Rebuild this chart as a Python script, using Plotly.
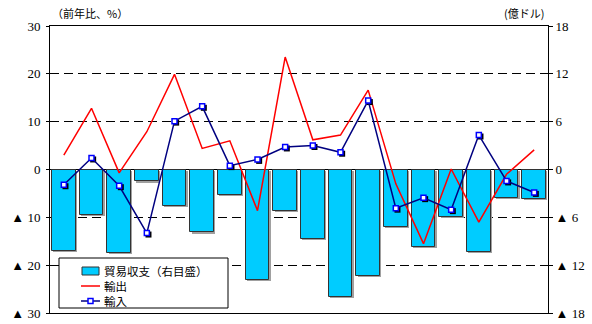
import plotly.graph_objects as go

# 18 periods, plotted on a numeric x so offsets can be applied to the shadows
periods = list(range(18))

# Trade balance (right axis, 100 million USD)
balance = [-10.2, -5.7, -10.5, -1.5, -4.6, -7.9, -3.2, -13.8, -5.2, -8.7,
           -16.0, -13.3, -7.2, -9.7, -5.9, -10.3, -3.6, -3.7]
# Exports, year-on-year % (left axis)
exports = [3.0, 12.8, -0.7, 7.9, 19.9, 4.4, 6.0, -8.6, 23.5, 6.2,
           7.2, 16.6, -3.0, -15.5, 0.1, -11.0, -1.0, 4.1]
# Imports, year-on-year % (left axis)
imports = [-3.2, 2.4, -3.4, -13.3, 10.1, 13.2, 0.8, 2.1, 4.7, 5.0,
           3.6, 14.4, -8.1, -5.9, -8.4, 7.2, -2.4, -4.8]

left_ticks = [30, 20, 10, 0, -10, -20, -30]
left_text = ["30", "20", "10", "0", "▲ 10", "▲ 20", "▲ 30"]
right_ticks = [18, 12, 6, 0, -6, -12, -18]
right_text = ["18", "12", "6", "0", "▲ 6", "▲ 12", "▲ 18"]

legend_labels = ["貿易収支（右目盛）", "輸出", "輸入"]

serif = "Liberation Serif"
cjk = "Noto Sans CJK JP"
bar_fill = "#00CCFF"
bar_edge = "#333333"
export_color = "#FF0000"
import_color = "#000080"
marker_edge = "#0000FF"

W, H = 592, 324
M = dict(l=50, r=44, t=26, b=11)
plot_w = W - M["l"] - M["r"]
plot_h = H - M["t"] - M["b"]


def px(x):
    return (x - M["l"]) / plot_w


def py(y):
    return (H - M["b"] - y) / plot_h


fig = go.Figure()

# faint grey drop shadow behind the balance bars
fig.add_trace(go.Bar(
    x=[p + 0.05 for p in periods], y=balance, base=[-0.15] * len(balance),
    yaxis="y", width=0.85, showlegend=False, hoverinfo="skip",
    marker=dict(color="#A0A0A0", line=dict(width=0)),
))

fig.add_trace(go.Bar(
    x=periods, y=balance, name=legend_labels[0], yaxis="y",
    width=0.85,
    marker=dict(color=bar_fill, line=dict(color=bar_edge, width=1)),
))

fig.add_trace(go.Scatter(
    x=periods, y=exports, name=legend_labels[1], yaxis="y2", mode="lines",
    line=dict(color=export_color, width=1.5),
))

# small dark drop shadow under the import markers
fig.add_trace(go.Scatter(
    x=[p + 0.06 for p in periods], y=[v - 0.3 for v in imports],
    yaxis="y2", mode="markers", showlegend=False, hoverinfo="skip",
    marker=dict(symbol="square", size=6, color="#000000",
                line=dict(width=0)),
))

fig.add_trace(go.Scatter(
    x=periods, y=imports, name=legend_labels[2], yaxis="y2",
    mode="lines+markers",
    line=dict(color=import_color, width=1.5),
    marker=dict(symbol="square", size=5, color="#FFFFFF",
                line=dict(color=marker_edge, width=1.5)),
))

# hand-drawn legend box with compact rows
shapes = [
    dict(type="rect", xref="paper", yref="paper",
         x0=px(59), x1=px(228), y0=py(308), y1=py(258),
         fillcolor="white", line=dict(color="black", width=1), layer="above"),
    dict(type="rect", xref="paper", yref="paper",
         x0=px(82), x1=px(99), y0=py(275), y1=py(267),
         fillcolor=bar_fill, line=dict(color=bar_edge, width=1), layer="above"),
    dict(type="line", xref="paper", yref="paper",
         x0=px(81), x1=px(100), y0=py(286), y1=py(286),
         line=dict(color=export_color, width=1.5), layer="above"),
    dict(type="line", xref="paper", yref="paper",
         x0=px(81), x1=px(100), y0=py(301), y1=py(301),
         line=dict(color=import_color, width=1.5), layer="above"),
    dict(type="rect", xref="paper", yref="paper",
         x0=px(88), x1=px(93), y0=py(303.5), y1=py(298.5),
         fillcolor="white", line=dict(color=marker_edge, width=1.5),
         layer="above"),
]

annotations = [
    dict(text="（前年比、%）", xref="paper", yref="paper",
         x=0.0, y=1.0, xanchor="left", yanchor="bottom", yshift=3,
         showarrow=False, font=dict(family=cjk, size=11, color="black")),
    dict(text="(億ドル)", xref="paper", yref="paper",
         x=0.995, y=1.0, xanchor="right", yanchor="bottom", yshift=3,
         showarrow=False, font=dict(family=cjk, size=11, color="black")),
]
for label, row_y in zip(legend_labels, [271, 286, 301]):
    annotations.append(dict(
        text=label, xref="paper", yref="paper",
        x=px(102), y=py(row_y), xanchor="left", yanchor="middle",
        showarrow=False, font=dict(family=cjk, size=11.5, color="black"),
    ))

fig.update_layout(
    width=W, height=H,
    margin=M,
    paper_bgcolor="white", plot_bgcolor="white",
    bargap=0, barmode="overlay",
    showlegend=False,
    xaxis=dict(
        range=[-0.5, 17.5], showticklabels=False, ticks="",
        showgrid=False, zeroline=False, automargin=False,
        showline=True, mirror=True, linecolor="black", linewidth=1,
    ),
    yaxis=dict(
        side="right", range=[-18, 18], automargin=False,
        tickvals=right_ticks, ticktext=right_text,
        ticks="outside", ticklen=4, tickcolor="black",
        tickfont=dict(family=serif, size=13, color="black"),
        showgrid=True, gridcolor="black", gridwidth=1, griddash="9px,5px",
        zeroline=True, zerolinecolor="black", zerolinewidth=1,
        showline=True, mirror=True, linecolor="black", linewidth=1,
    ),
    yaxis2=dict(
        overlaying="y", side="left", range=[-30, 30], automargin=False,
        tickvals=left_ticks, ticktext=left_text,
        ticks="outside", ticklen=3, tickcolor="black",
        tickfont=dict(family=serif, size=13, color="black"),
        ticklabelstandoff=3,
        showgrid=False, zeroline=False, showline=False,
    ),
    shapes=shapes,
    annotations=annotations,
)

fig.write_html("out.html")
